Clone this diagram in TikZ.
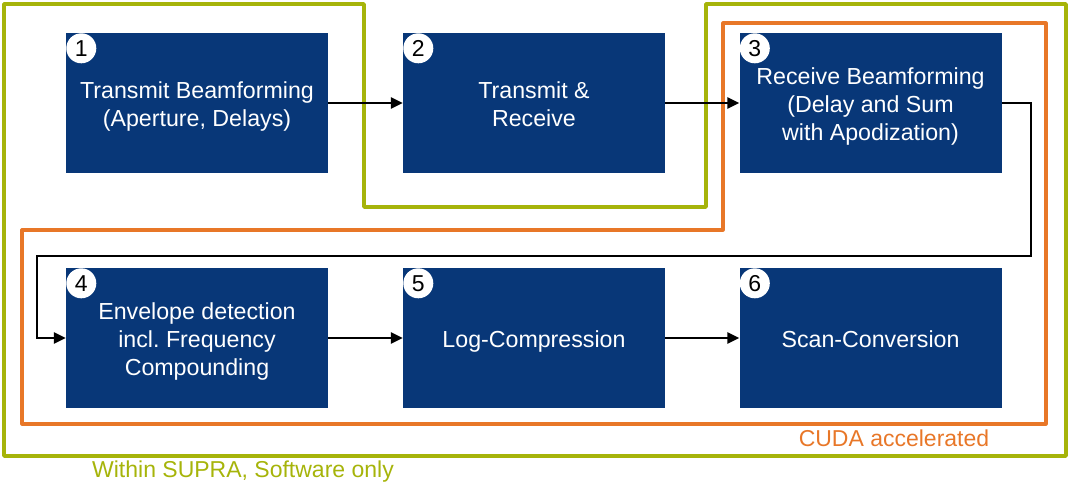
\documentclass[tikz,border=0pt]{standalone}
\usepackage{fontspec}
\setmainfont{Liberation Sans}
\usetikzlibrary{arrows.meta}
\definecolor{boxblue}{RGB}{8,55,120}
\definecolor{supragreen}{RGB}{166,180,10}
\definecolor{cudaorange}{RGB}{232,119,40}
\newcommand{\boxlines}[1]{\begin{tabular}{@{}c@{}}#1\end{tabular}}
\tikzset{
  stepbox/.style={fill=boxblue, draw=none, minimum width=262pt, minimum height=140pt, inner sep=0pt},
  steptext/.style={text=white, inner sep=0pt, font=\fontsize{23.2}{28}\selectfont},
  numcirc/.style={circle, fill=white, draw=none, minimum size=30pt, inner sep=0pt,
    font=\fontsize{23}{23}\selectfont, text=black},
  arr/.style={draw=black, line width=2.7pt, -{Triangle[length=12pt,width=11pt]}},
  greenline/.style={draw=supragreen, line width=3.6pt, line join=round},
  orangeline/.style={draw=cudaorange, line width=3.2pt, line join=round},
  lbl/.style={font=\fontsize{23}{27}\selectfont, inner sep=0pt}
}
\begin{document}
\begin{tikzpicture}[x=1pt,y=-1pt]
\useasboundingbox (0,0) rectangle (1068,485);
% group outlines
\draw[greenline] (4,4) -- (364,4) -- (364,207) -- (706,207) -- (706,4) -- (1066,4) -- (1066,456) -- (4,456) -- cycle;
\draw[orangeline] (723,23) -- (1046,23) -- (1046,424) -- (22,424) -- (22,230) -- (723,230) -- cycle;
% boxes
\node[stepbox] (b1) at (197,103) {};
\node[stepbox] (b2) at (534,103) {};
\node[stepbox] (b3) at (870.5,103) {};
\node[stepbox] (b4) at (197,338) {};
\node[stepbox] (b5) at (534,338) {};
\node[stepbox] (b6) at (870.5,338) {};
% box texts
\node[steptext] (x1) at ([shift={(0,3.7)}]b1.center) {\boxlines{Transmit Beamforming\\(Aperture, Delays)}};
\node[steptext] (x2) at ([shift={(0,3.7)}]b2.center) {\boxlines{Transmit \&\\Receive}};
\node[steptext] (x3) at ([shift={(0,3.7)}]b3.center) {\boxlines{Receive Beamforming\\(Delay and Sum\\with Apodization)}};
\node[steptext] (x4) at ([shift={(0,3.7)}]b4.center) {\boxlines{Envelope detection\\incl.\ Frequency\\Compounding}};
\node[steptext] (x5) at ([shift={(0,3.7)}]b5.center) {\boxlines{Log-Compression}};
\node[steptext] (x6) at ([shift={(0,3.7)}]b6.center) {\boxlines{Scan-Conversion}};
% numbers
\node[numcirc] (n1) at ([shift={(15.5,15.5)}]b1.north west) {1};
\node[numcirc] (n2) at ([shift={(15.5,15.5)}]b2.north west) {2};
\node[numcirc] (n3) at ([shift={(15.5,15.5)}]b3.north west) {3};
\node[numcirc] (n4) at ([shift={(15.5,15.5)}]b4.north west) {4};
\node[numcirc] (n5) at ([shift={(15.5,15.5)}]b5.north west) {5};
\node[numcirc] (n6) at ([shift={(15.5,15.5)}]b6.north west) {6};
% connectors
\draw[arr] (b1) -- (b2);
\draw[arr] (b2) -- (b3);
\coordinate (t1) at (1031,256);
\coordinate (t2) at (37,256);
\draw[arr] (b3.east) -| (t1) -- (t2) |- (b4.west);
\draw[arr] (b4) -- (b5);
\draw[arr] (b5) -- (b6);
% labels
\node[lbl, text=cudaorange] (cuda) at (894,438) {CUDA accelerated};
\node[lbl, text=supragreen] (supra) at (243,472) {Within SUPRA, Software only};
\end{tikzpicture}
\end{document}
